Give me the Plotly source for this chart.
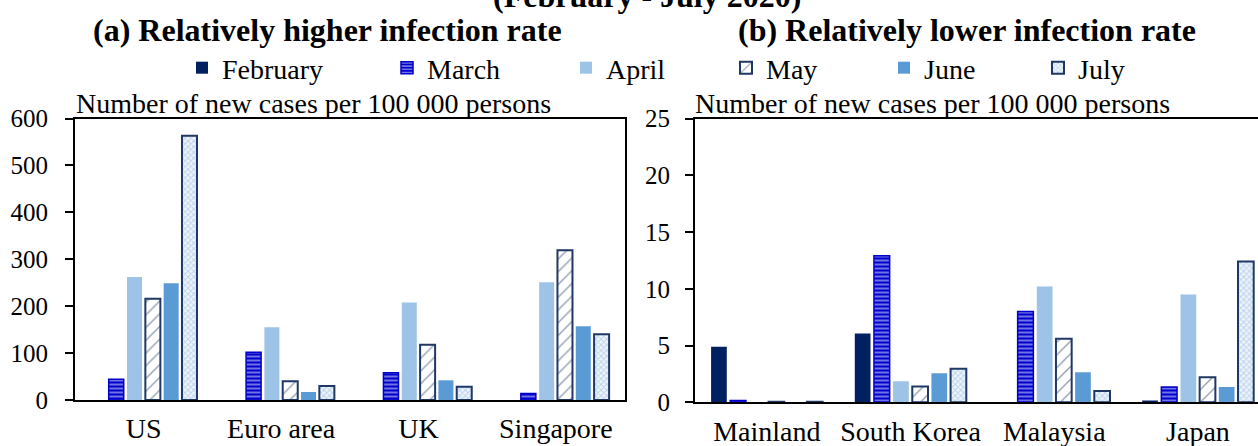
import plotly.graph_objects as go

# Monthly new COVID-19 cases per 100 000 persons
months = ["February", "March", "April", "May", "June", "July"]

regions_high = ["US", "Euro area", "UK", "Singapore"]
feb_high = [0, 0, 0, 0]
mar_high = [44, 102, 58, 14]
apr_high = [262, 155, 208, 251]
may_high = [216, 40, 118, 319]
jun_high = [249, 17, 42, 157]
jul_high = [563, 30, 28, 140]

regions_low = ["Mainland", "South Korea", "Malaysia", "Japan"]
feb_low = [4.9, 6.05, 0, 0.1]
mar_low = [0.15, 12.9, 8.0, 1.35]
apr_low = [0, 1.85, 10.2, 9.5]
may_low = [0.05, 1.4, 5.6, 2.2]
jun_low = [0, 2.55, 2.65, 1.35]
jul_low = [0.05, 2.95, 1.0, 12.4]

yticks_high = [0, 100, 200, 300, 400, 500, 600]
yticks_low = [0, 5, 10, 15, 20, 25]

high_series = [feb_high, mar_high, apr_high, may_high, jun_high, jul_high]
low_series = [feb_low, mar_low, apr_low, may_low, jun_low, jul_low]

FONT = "Liberation Serif"
NAVY = "#002060"
BLUE = "#0000CC"
EDGE = "#1F3864"

W, H = 1258, 446

styles = {
    "February": dict(color=NAVY, line=dict(width=0)),
    "March": dict(color=BLUE, line=dict(color=BLUE, width=1.5),
                  pattern=dict(shape="-", bgcolor=BLUE, fgcolor="white",
                               size=4, solidity=0.45)),
    "April": dict(color="#9DC3E6", line=dict(width=0)),
    "May": dict(color="white", line=dict(color=EDGE, width=2),
                pattern=dict(shape="/", bgcolor="white", fgcolor=EDGE,
                             size=9, solidity=0.15)),
    "June": dict(color="#5B9BD5", line=dict(width=0)),
    "July": dict(color="#C9DCF0", line=dict(color=EDGE, width=2),
                 pattern=dict(shape="x", bgcolor="#EEF4FB", fgcolor="#8DB3DD",
                              size=4, solidity=0.45)),
}

# legend square positions (pixels) for each month
legend_px = [202, 407, 586, 746, 904, 1058]

fig = go.Figure()
for i, m in enumerate(months):
    lg = "legend" if i == 0 else f"legend{i + 1}"
    fig.add_trace(go.Bar(x=regions_high, y=high_series[i], name=m,
                         marker=styles[m], xaxis="x", yaxis="y",
                         legend=lg, showlegend=True))
    fig.add_trace(go.Bar(x=regions_low, y=low_series[i], name=m,
                         marker=styles[m], xaxis="x2", yaxis="y2",
                         legend=lg, showlegend=False))

legend_layout = {}
for i, px in enumerate(legend_px):
    key = "legend" if i == 0 else f"legend{i + 1}"
    legend_layout[key] = dict(
        x=(px - 20) / W, y=(H - 68) / H, xanchor="left", yanchor="middle",
        orientation="h", bgcolor="rgba(0,0,0,0)", borderwidth=0,
        font=dict(family=FONT, size=28, color="black"),
        itemclick=False, itemdoubleclick=False,
    )

axis_common = dict(
    showline=True, linecolor="black", linewidth=2, mirror=True,
    showgrid=False, zeroline=False,
)
xfont = dict(family=FONT, size=28, color="black")
yfont = dict(family=FONT, size=25, color="black")

fig.update_layout(
    width=W, height=H,
    margin=dict(l=0, r=0, t=0, b=0, autoexpand=False),
    paper_bgcolor="white", plot_bgcolor="white",
    barmode="group", bargap=0.2, bargroupgap=0.18,
    font=dict(family=FONT, color="black"),
    xaxis=dict(domain=[75 / W, 624.5 / W], anchor="y", tickfont=xfont,
               ticks="", ticklabelstandoff=2, **axis_common),
    yaxis=dict(domain=[(H - 400) / H, (H - 118.5) / H], anchor="x",
               range=[0, 600], tickvals=yticks_high, tickfont=yfont,
               ticks="outside", ticklen=8, tickwidth=2, tickcolor="black",
               ticklabelstandoff=12, **axis_common),
    xaxis2=dict(domain=[695 / W, 1.0], anchor="y2", tickfont=xfont,
                range=[-0.5, 3.418],
                ticks="", ticklabelstandoff=3, **axis_common),
    yaxis2=dict(domain=[(H - 402.3) / H, (H - 118.5) / H], anchor="x2",
                range=[0, 25], tickvals=yticks_low, tickfont=yfont,
                ticks="outside", ticklen=8, tickwidth=2, tickcolor="black",
                ticklabelstandoff=10, **axis_common),
    **legend_layout,
)
# the right panel has no visible right-hand border
fig.update_layout(yaxis2=dict(mirror=False), xaxis2=dict(mirror=True))

title_font = dict(family=FONT, size=32, color="black")
label_font = dict(family=FONT, size=28, color="black")
annotations = [
    dict(text="<b>(February - July 2020)</b>", x=647 / W, y=(H - 16) / H,
         xref="paper", yref="paper", xanchor="center", yanchor="bottom",
         showarrow=False, font=title_font),
    dict(text="<b>(a) Relatively higher infection rate</b>", x=327 / W,
         y=(H - 30) / H, xref="paper", yref="paper", xanchor="center",
         yanchor="middle", showarrow=False, font=title_font),
    dict(text="<b>(b) Relatively lower infection rate</b>", x=967 / W,
         y=(H - 30) / H, xref="paper", yref="paper", xanchor="center",
         yanchor="middle", showarrow=False, font=title_font),
    dict(text="Number of new cases per 100 000 persons", x=74 / W,
         y=(H - 121) / H, xref="paper", yref="paper", xanchor="left",
         yanchor="bottom", showarrow=False, font=label_font),
    dict(text="Number of new cases per 100 000 persons", x=693 / W,
         y=(H - 121) / H, xref="paper", yref="paper", xanchor="left",
         yanchor="bottom", showarrow=False, font=label_font),
]
fig.update_layout(annotations=annotations)

fig.write_html("out.html")
